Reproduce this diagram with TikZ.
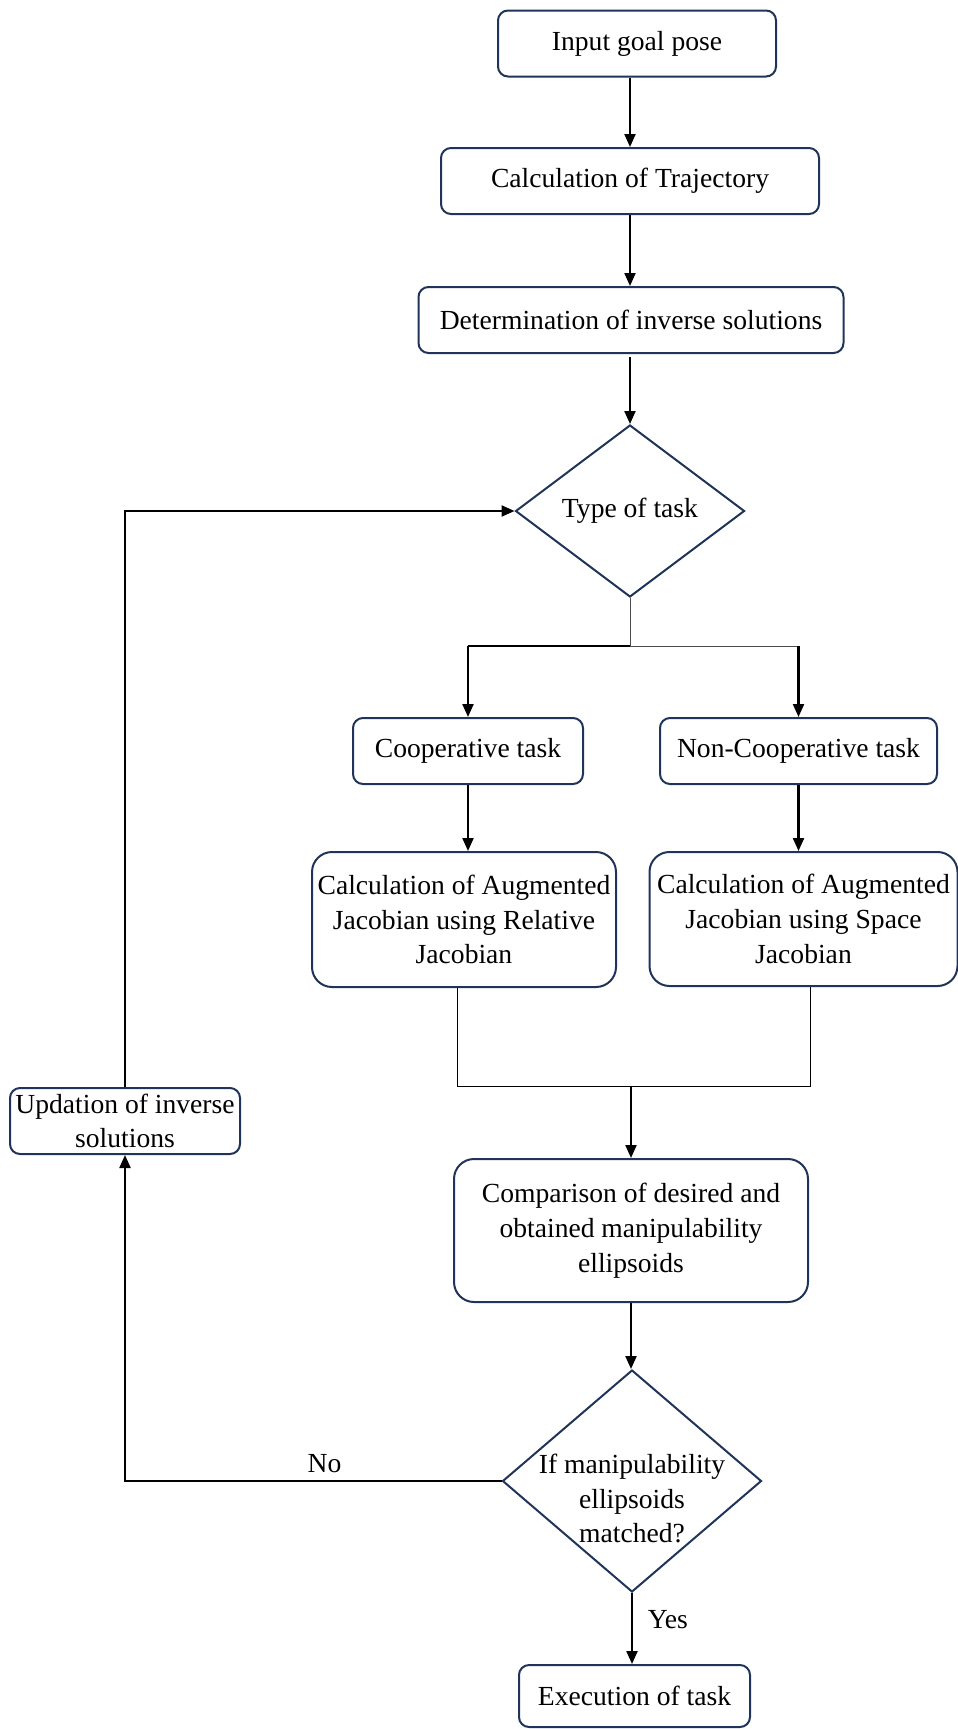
\documentclass[tikz,border=0pt]{standalone}
\usepackage{fontspec}
\setmainfont{Liberation Serif}
\usepackage{tikz}
\usetikzlibrary{shapes.geometric, arrows.meta, calc}
\definecolor{navy}{RGB}{32,52,90}

\begin{document}
\begin{tikzpicture}[x=0.5pt, y=-0.5pt,
  font=\fontsize{13.8}{17.4}\selectfont,
  box/.style={draw=navy, line width=1pt, rounded corners=5pt, align=center, inner sep=0pt, fill=white},
  bigbox/.style={box, rounded corners=10pt},
  decision/.style={diamond, draw=navy, line width=1pt, inner sep=0pt, align=center},
  arr/.style={-{Triangle[length=6.5pt,width=5.5pt]}, line width=1.1pt},
  thinline/.style={line width=0.5pt}]
\useasboundingbox (0,0) rectangle (958,1729);
\node[box, minimum width=139pt, minimum height=33pt] (input) at (637,43.5) {Input goal pose};
\node[box, minimum width=189pt, minimum height=33pt] (traj) at (630,181) {Calculation of Trajectory};
\node[box, minimum width=212.5pt, minimum height=33pt] (det) at (631,320) {Determination of inverse solutions};
\node[decision, minimum width=114.5pt, minimum height=86pt] (task) at (630,511) {Type of task};
\node[box, minimum width=115pt, minimum height=33pt] (coop) at (468,751) {Cooperative task};
\node[box, minimum width=138.5pt, minimum height=33pt] (noncoop) at (798.5,751) {Non-Cooperative task};
\node[bigbox, minimum width=152pt, minimum height=67.5pt] (rel) at (464,919.5) {Calculation of Augmented\\Jacobian using Relative\\Jacobian};
\node[bigbox, minimum width=154pt, minimum height=67pt] (space) at (803.5,919) {Calculation of Augmented\\Jacobian using Space\\Jacobian};
\node[bigbox, minimum width=177pt, minimum height=71.5pt] (comp) at (631,1230.5) {Comparison of desired and\\obtained manipulability\\ellipsoids};
\node[decision, minimum width=129.5pt, minimum height=111pt,
  label={[align=center, yshift=-8.75pt]center:If manipulability\\ellipsoids\\matched?}] (match) at (632,1481) {};
\node[box, minimum width=115pt, minimum height=33pt] (upd) at (125,1121) {Updation of inverse\\solutions};
\node[box, minimum width=115.5pt, minimum height=31pt] (exec) at (634.5,1696) {Execution of task};

\coordinate (split) at (630,646);
\coordinate (merge) at (631,1086);

\draw[arr] (input.south -| traj.north) -- (traj.north);
\draw[arr] (traj.south) -- (traj.south |- det.north);
\draw[arr] ([yshift=-1.5pt]det.south -| task.north) -- (task.north);
\draw[thinline, black!70] (task.south) -- (split);
\draw[line width=1.1pt] (split) -- (split -| coop.north);
\draw[thinline, black!70] (split) -- (split -| noncoop.north);
\draw[arr] (split -| coop.north) -- (coop.north);
\draw[arr] (split -| noncoop.north) -- (noncoop.north);
\draw[arr] (coop.south) -- (coop.south |- rel.north);
\draw[arr] (noncoop.south) -- (noncoop.south |- space.north);
\draw[thinline] ([xshift=-3.5pt]rel.south) |- (merge) -| ([xshift=3.25pt]space.south);
\draw[arr] (merge) -- (merge |- comp.north);
\draw[arr] (comp.south) -- (comp.south |- match.north);
\draw[arr] (match.west) -| node[pos=0.235, above]{No} (upd.south);
\draw[arr] (upd.north) |- (task.west);
\draw[arr] (match.south) -- node[right, pos=0.37, xshift=4pt]{Yes} (match.south |- exec.north);
\end{tikzpicture}
\end{document}
